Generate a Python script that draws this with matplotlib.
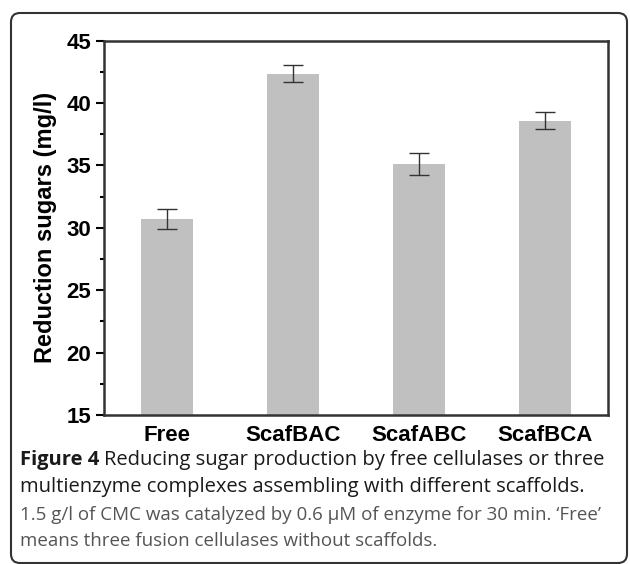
import matplotlib.pyplot as plt
from matplotlib.patches import FancyBboxPatch
from matplotlib.transforms import IdentityTransform
from matplotlib.ticker import MultipleLocator

# Data
groups = ['Free', 'ScafBAC', 'ScafABC', 'ScafBCA']
sugars = [30.7, 42.35, 35.1, 38.6]
errors = [0.8, 0.7, 0.9, 0.7]

plt.rcParams['font.family'] = ['Liberation Sans', 'DejaVu Sans']

fig = plt.figure(figsize=(6.3, 5.64), dpi=100)
ax = fig.add_axes([0.165, 0.264, 0.8, 0.664])

pos = range(1, len(groups) + 1)
ax.bar(pos, sugars, width=0.41, color='#c0c0c0', zorder=2)
ax.errorbar(pos, sugars, yerr=errors, fmt='none', ecolor='#333333',
            elinewidth=1, capsize=7, capthick=1, zorder=3)

ax.set_xlim(0.5, 4.5)
ax.set_ylim(15, 45)
ax.set_xticks(list(pos))
ax.set_xticklabels(groups, fontsize=16, fontweight='bold')
ax.yaxis.set_major_locator(MultipleLocator(5))
ax.yaxis.set_minor_locator(MultipleLocator(2.5))
ax.tick_params(axis='y', which='major', length=6, width=1.5, labelsize=16, pad=3)
ax.tick_params(axis='y', which='minor', length=3, width=1.5)
ax.tick_params(axis='x', length=0, pad=7)
for lab in ax.get_yticklabels():
    lab.set_fontweight('bold')
for sp in ax.spines.values():
    sp.set_linewidth(1.8)
    sp.set_color('#333333')
ax.set_ylabel('Reduction sugars (mg/l)', fontsize=17, fontweight='bold', labelpad=7)

# Rounded frame around figure and caption (pixel coordinates)
frame = FancyBboxPatch((11, 1), 616, 550, boxstyle='round,pad=0,rounding_size=9',
                       transform=IdentityTransform(), fill=False,
                       edgecolor='#333333', linewidth=1.5)
fig.patches.append(frame)

# Caption
cap = ['Open Sans', 'DejaVu Sans']
r = fig.canvas.get_renderer()
t1 = fig.text(20 / 630, 1 - 460 / 564, 'Figure 4', fontsize=14.5, fontweight='bold',
              family=cap, va='center', color='#1a1a1a')
bb = t1.get_window_extent(renderer=r)
fig.text((bb.x1 + 5) / 630, 1 - 460 / 564,
         'Reducing sugar production by free cellulases or three',
         fontsize=14.5, family=cap, va='center', color='#1a1a1a')
fig.text(20 / 630, 1 - 487 / 564,
         'multienzyme complexes assembling with different scaffolds.',
         fontsize=14.5, family=cap, va='center', color='#1a1a1a')
fig.text(20 / 630, 1 - 515 / 564,
         '1.5 g/l of CMC was catalyzed by 0.6 \u00b5M of enzyme for 30 min. \u2018Free\u2019',
         fontsize=13.5, family=cap, va='center', color='#555555')
fig.text(20 / 630, 1 - 541 / 564,
         'means three fusion cellulases without scaffolds.',
         fontsize=13.5, family=cap, va='center', color='#555555')

plt.savefig('out.png', dpi=100)
